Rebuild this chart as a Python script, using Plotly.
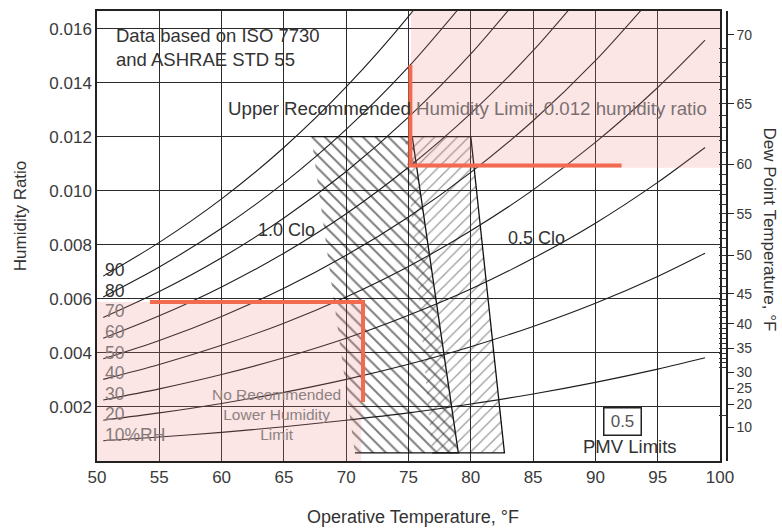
import numpy as np
import plotly.graph_objects as go

# ---------------- data ----------------
# Operative temperature (°F) at which the relative-humidity curves were read
CURVE_T = [50.5, 55, 60, 65, 70, 75, 80, 85, 90, 95, 98.8]
RH_LABELS = ["90", "80", "70", "60", "50", "40", "30", "20", "10%RH"]
RH_90 = [0.00684, 0.00809, 0.00970, 0.01160, 0.01384, 0.01645, 0.01950]
RH_80 = [0.00607, 0.00718, 0.00861, 0.01029, 0.01227, 0.01458, 0.01727]
RH_70 = [0.00531, 0.00627, 0.00752, 0.00899, 0.01071, 0.01272, 0.01506, 0.01778]
RH_60 = [0.00454, 0.00537, 0.00644, 0.00769, 0.00915, 0.01087, 0.01286, 0.01518, 0.01786]
RH_50 = [0.00378, 0.00446, 0.00535, 0.00639, 0.00761, 0.00903, 0.01068, 0.01259, 0.01481, 0.01738]
RH_40 = [0.00302, 0.00357, 0.00428, 0.00510, 0.00607, 0.00720, 0.00852, 0.01003, 0.01179, 0.01382, 0.01557]
RH_30 = [0.00226, 0.00267, 0.00320, 0.00382, 0.00454, 0.00539, 0.00636, 0.00750, 0.00880, 0.01031, 0.01160]
RH_20 = [0.00151, 0.00178, 0.00213, 0.00254, 0.00302, 0.00358, 0.00423, 0.00498, 0.00584, 0.00683, 0.00769]
RH_10 = [0.00075, 0.00089, 0.00106, 0.00127, 0.00151, 0.00178, 0.00211, 0.00248, 0.00291, 0.00340, 0.00382]
RH_CURVES = [RH_90, RH_80, RH_70, RH_60, RH_50, RH_40, RH_30, RH_20, RH_10]

# PMV comfort zones (operative temperature °F, humidity ratio)
WINTER_T = [67.2, 75.3, 79.0, 70.7]   # 1.0 clo
WINTER_W = [0.012, 0.012, 0.0003, 0.0003]
SUMMER_T = [74.7, 80.0, 82.7, 76.9]   # 0.5 clo
SUMMER_W = [0.012, 0.012, 0.0003, 0.0003]

# shaded "not recommended" humidity regions
HIGH_ZONE_T = [75.2, 100, 100, 75.2]
HIGH_ZONE_W = [0.01085, 0.01085, 0.01665, 0.01665]
LOW_ZONE_T = [50, 71.2, 71.2, 50]
LOW_ZONE_W = [0, 0, 0.00588, 0.00588]

# red limit lines
UPPER_LIMIT_T = [75.15, 75.15, 92.1]
UPPER_LIMIT_W = [0.01465, 0.01093, 0.01093]
LOWER_LIMIT_T = [54.25, 71.35, 71.35]
LOWER_LIMIT_W = [0.00588, 0.00588, 0.00218]

# axes
X_TICKS = [50, 55, 60, 65, 70, 75, 80, 85, 90, 95, 100]
Y_TICKS = [0.002, 0.004, 0.006, 0.008, 0.010, 0.012, 0.014, 0.016]
Y_TICK_TEXT = ["0.002", "0.004", "0.006", "0.008", "0.010", "0.012", "0.014", "0.016"]
DEW_TICKS = [10, 20, 25, 30, 35, 40, 45, 50, 55, 60, 65, 70]
DEW_TICK_W = [0.00125, 0.0021, 0.00269, 0.00328, 0.00416, 0.00508, 0.00619,
              0.00761, 0.00914, 0.01098, 0.01322, 0.01577]
DEW_MINOR = [15] + list(range(31, 70))

Y_MAX = 0.01665
FONT = "Liberation Sans, Arial, sans-serif"
DARK = "#333333"
GREY = "#857a7a"

fig = go.Figure()

# comfort zones with hatch patterns
fig.add_trace(go.Scatter(
    x=WINTER_T, y=WINTER_W, fill="toself", mode="lines",
    line=dict(color="#111", width=1.3), fillcolor="rgba(0,0,0,0)",
    fillpattern=dict(shape="\\", size=9, solidity=0.22, fgcolor="#000",
                     bgcolor="rgba(0,0,0,0)"),
    hoverinfo="skip"))
fig.add_trace(go.Scatter(
    x=SUMMER_T, y=SUMMER_W, fill="toself", mode="lines",
    line=dict(color="#111", width=1.3), fillcolor="rgba(0,0,0,0)",
    fillpattern=dict(shape="/", size=8, solidity=0.15, fgcolor="#333",
                     bgcolor="rgba(0,0,0,0)"),
    hoverinfo="skip"))

# relative humidity curves
for vals in RH_CURVES:
    fig.add_trace(go.Scatter(
        x=CURVE_T[:len(vals)], y=vals, mode="lines",
        line=dict(color="#1e1e1e", width=1.1, shape="spline", smoothing=0.8),
        hoverinfo="skip"))

# translucent pink regions
for tx, wy in ((HIGH_ZONE_T, HIGH_ZONE_W), (LOW_ZONE_T, LOW_ZONE_W)):
    fig.add_trace(go.Scatter(
        x=tx, y=wy, fill="toself", mode="lines", line=dict(width=0),
        fillcolor="rgba(238,125,125,0.2)", hoverinfo="skip"))

# red limit lines
for tx, wy in ((UPPER_LIMIT_T, UPPER_LIMIT_W), (LOWER_LIMIT_T, LOWER_LIMIT_W)):
    fig.add_trace(go.Scatter(
        x=tx, y=wy, mode="lines", line=dict(color="#F26A4F", width=4),
        hoverinfo="skip"))

# dummy trace to carry the dew point axis
fig.add_trace(go.Scatter(x=[50, 100], y=[0, 0], yaxis="y2", mode="lines",
                         line=dict(width=0), hoverinfo="skip"))

ann = []
for lab, vals in zip(RH_LABELS, RH_CURVES):
    ann.append(dict(x=50.45, y=vals[0], text=lab, xanchor="left", yanchor="middle",
                    yshift=6, showarrow=False,
                    font=dict(size=17.5, color=GREY if vals[0] < 0.0059 else DARK)))

ann += [
    dict(x=51.4, y=0.0153, text="Data based on ISO 7730<br>and ASHRAE STD 55",
         xanchor="left", yanchor="middle", align="left", showarrow=False,
         font=dict(size=18.5, color=DARK)),
    dict(x=79.7, y=0.01305,
         text='<span style="color:#333">Upper Recommended</span> '
              '<span style="color:#7a7070">Humidity Limit, 0.012 humidity ratio</span>',
         showarrow=False, font=dict(size=18.7)),
    dict(x=65.2, y=0.00855, text="1.0 Clo", showarrow=False,
         font=dict(size=18, color=DARK)),
    dict(x=85.31, y=0.00825, text="0.5 Clo", showarrow=False,
         font=dict(size=18, color=DARK)),
    dict(x=64.4, y=0.00173, text="No Recommended<br>Lower Humidity<br>Limit",
         showarrow=False, font=dict(size=15.5, color="#8c8282")),
    dict(x=92.17, y=0.00147, text="0.5", showarrow=False, width=34, height=24,
         bordercolor="#222", borderwidth=1.5, borderpad=1,
         font=dict(size=17, color="#555")),
    dict(x=92.78, y=0.00052, text="PMV Limits", showarrow=False,
         font=dict(size=18.5, color=DARK)),
    dict(xref="paper", yref="paper", x=-0.1222, y=0.544, text="Humidity Ratio",
         textangle=-90, xanchor="center", yanchor="middle", showarrow=False,
         font=dict(size=17, color=DARK)),
    dict(xref="paper", yref="paper", x=0.5016, y=-0.1239,
         text="Operative Temperature, °F", xanchor="center", yanchor="middle",
         showarrow=False, font=dict(size=18, color=DARK)),
    dict(xref="paper", yref="paper", x=1.0675, y=0.5155,
         text="Dew Point Temperature, °F", textangle=90, xanchor="center",
         yanchor="middle", showarrow=False, font=dict(size=17, color=DARK)),
]

minor_vals = list(np.interp(DEW_MINOR, DEW_TICKS, DEW_TICK_W))

fig.update_layout(
    width=782, height=528, autosize=False,
    margin=dict(l=97, r=55, t=9, b=67),
    paper_bgcolor="white", plot_bgcolor="white",
    showlegend=False,
    font=dict(family=FONT, color=DARK),
    xaxis=dict(range=[50, 100], domain=[0, 623 / 630], tickvals=X_TICKS,
               showgrid=True, gridcolor="#2b2b2b", gridwidth=1.3,
               showline=True, mirror=True, linecolor="#222", linewidth=1.5,
               zeroline=False, ticks="", tickfont=dict(size=17, color="#3a3a3a")),
    yaxis=dict(range=[0, Y_MAX], tickvals=Y_TICKS, ticktext=Y_TICK_TEXT,
               showgrid=True, gridcolor="#2b2b2b", gridwidth=1.3,
               showline=True, mirror=True, linecolor="#222", linewidth=1.5,
               zeroline=False, ticks="", tickfont=dict(size=17, color="#3a3a3a")),
    yaxis2=dict(range=[0, Y_MAX], overlaying="y", anchor="free", position=1,
                side="right", tickvals=DEW_TICK_W, ticktext=[str(v) for v in DEW_TICKS],
                ticks="outside", ticklen=6, tickwidth=1.3, tickcolor="#222",
                showline=True, linecolor="#222", linewidth=1.5,
                showgrid=False, zeroline=False,
                tickfont=dict(size=14, color="#3a3a3a"),
                minor=dict(ticks="inside", ticklen=7, tickwidth=1, tickcolor="#333",
                           tickmode="array", tickvals=minor_vals)),
    annotations=ann,
)

fig.write_html(
    "out.html",
    config={"displayModeBar": False},
    post_script="document.body.style.margin='0';document.body.style.padding='0';"
                "document.body.style.overflow='hidden';",
)
